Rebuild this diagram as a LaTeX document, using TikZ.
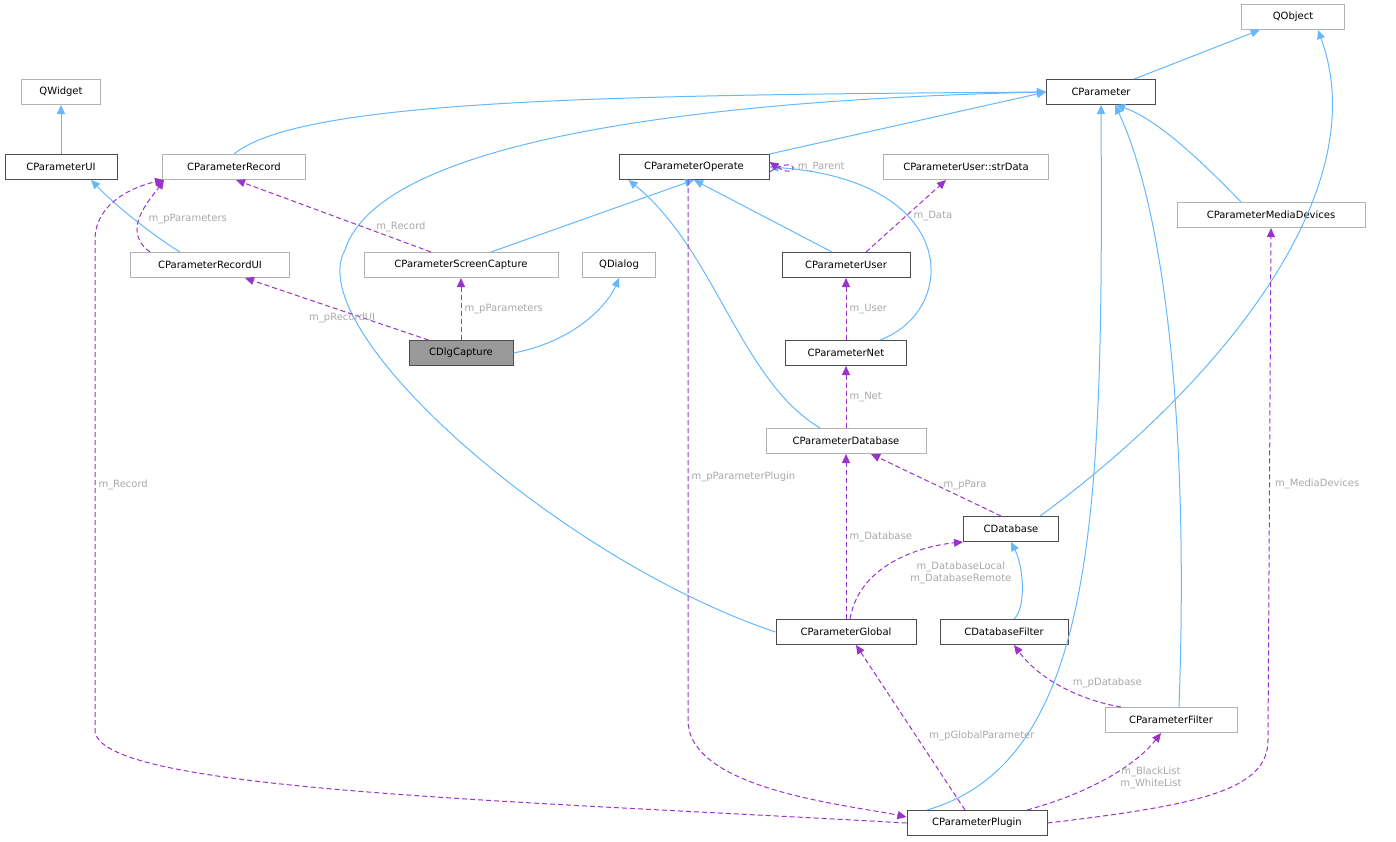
\documentclass[tikz,border=0pt]{standalone}
\usepackage{fontspec}
\setmainfont{DejaVu Sans}
\usetikzlibrary{arrows.meta,positioning}
\definecolor{inhblue}{HTML}{63B8FF}
\definecolor{usepurple}{HTML}{9A32CD}
\definecolor{lblgray}{HTML}{A8A8A8}
\tikzset{
  cls/.style={draw=black!70, line width=1pt, rectangle, minimum height=25pt, inner sep=0pt, font=\fontsize{10}{12}\selectfont},
  ext/.style={cls, draw=black!30},
  inh/.style={draw=inhblue, line width=1pt, {Triangle[length=9pt,width=8pt]}-},
  uses/.style={draw=usepurple, line width=1pt, dash pattern=on 5pt off 3pt, -{Triangle[length=9pt,width=8pt]}},
  lbl/.style={text=lblgray, font=\fontsize{10}{12}\selectfont, align=center, inner sep=1pt}
}
\begin{document}
\begin{tikzpicture}[x=1pt,y=-1pt]
    \useasboundingbox (0,0) rectangle (1396,841);

    % classes
    \node[ext, minimum width=103pt] (qobj) at (1293,17) {QObject};
    \node[cls, minimum width=109pt] (par) at (1101,92) {CParameter};
    \node[ext, minimum width=79pt] (qwid) at (61,92) {QWidget};
    \node[cls, minimum width=112pt] (parui) at (61,167) {CParameterUI};
    \node[ext, minimum width=143pt] (rec) at (234,167) {CParameterRecord};
    \node[cls, minimum width=150pt] (oper) at (694,167) {CParameterOperate};
    \node[ext, minimum width=165pt] (strd) at (966,167) {CParameterUser::strData};
    \node[ext, minimum width=188pt] (media) at (1271,215) {CParameterMediaDevices};
    \node[ext, minimum width=159pt] (recui) at (210,265) {CParameterRecordUI};
    \node[ext, minimum width=194pt] (scap) at (461,265) {CParameterScreenCapture};
    \node[ext, minimum width=73pt] (qdlg) at (619,265) {QDialog};
    \node[cls, minimum width=128pt] (user) at (846,265) {CParameterUser};
    \node[cls, minimum width=104pt, fill=black!40] (dlg) at (461,353) {CDlgCapture};
    \node[cls, minimum width=121pt] (net) at (846,353) {CParameterNet};
    \node[ext, minimum width=160pt] (pdb) at (846,441) {CParameterDatabase};
    \node[cls, minimum width=95pt] (db) at (1011,529) {CDatabase};
    \node[cls, minimum width=140pt] (glob) at (846,632) {CParameterGlobal};
    \node[cls, minimum width=128pt] (dbf) at (1004,632) {CDatabaseFilter};
    \node[ext, minimum width=132pt] (filt) at (1171,720) {CParameterFilter};
    \node[cls, minimum width=140pt] (plug) at (977,823) {CParameterPlugin};

    % inheritance
    \draw[inh] (qobj) -- (par);
    \draw[inh] (qwid) -- (parui);
    \draw[inh] (par.west) .. controls (600,95) and (300,100) .. (rec.north);
    \draw[inh] (par.west) -- (oper.north east);
    \draw[inh] ([xshift=15pt]par.south) .. controls (1160,120) and (1210,170) .. ([xshift=-30pt]media.north);
    \draw[inh] (parui.south) ++(30,0) .. controls (120,210) and (160,240) .. ([xshift=-30pt]recui.north);
    \draw[inh] (oper.south) -- ([xshift=30pt]scap.north);
    \draw[inh] (oper.south) -- ([xshift=-14pt]user.north);
    \draw[inh] (qdlg.south) .. controls (610,300) and (580,340) .. (dlg.east);
    \draw[inh] (oper.east) .. controls (960,180) and (960,310) .. ([xshift=34pt]net.north);
    \draw[inh] ([xshift=10pt]oper.south west) .. controls (715,250) and (740,380) .. ([xshift=-26pt]pdb.north);
    \draw[inh] (par.west) .. controls (700,100) and (380,140) .. (345,250)
        .. controls (300,330) and (560,560) .. (glob.west);
    \draw[inh] ([xshift=25pt]qobj.south) .. controls (1380,200) and (1200,400) .. ([xshift=29pt]db.north);
    \draw[inh] (db.south) .. controls (1025,570) and (1025,610) .. ([xshift=10pt]dbf.north);
    \draw[inh] ([xshift=14pt]par.south) .. controls (1160,200) and (1190,400) .. ([xshift=8pt]filt.north);
    \draw[inh] (par.south) .. controls (1103,500) and (1100,760) .. ([xshift=-50pt]plug.north);

    % usage
    \draw[uses] ([yshift=-5pt]oper.east) .. controls (800,152) and (800,182) .. ([yshift=5pt]oper.east)
        node[lbl, pos=0.5, right=4pt] {m\_Parent};
    \draw[uses] ([xshift=-60pt]recui.north) .. controls (120,230) and (150,200) .. ([xshift=-70pt]rec.south)
        node[lbl, pos=0.45, right=8pt] {m\_pParameters};
    \draw[uses] ([xshift=-30pt]scap.north) -- ([xshift=-70pt]rec.south east)
        node[lbl, pos=0.35, right=12pt] {m\_Record};
    \draw[uses] ([xshift=20pt]user.north) -- ([xshift=-20pt]strd.south)
        node[lbl, midway, right=6pt] {m\_Data};
    \draw[uses] (dlg.north west) ++(20,0) -- ([xshift=35pt]recui.south)
        node[lbl, pos=0.25, above left=0pt and 6pt] {m\_pRecordUI};
    \draw[uses] (dlg) -- (scap) node[lbl, midway, right=2pt] {m\_pParameters};
    \draw[uses] (net) -- (user) node[lbl, midway, right=2pt] {m\_User};
    \draw[uses] (pdb) -- (net) node[lbl, midway, right=2pt] {m\_Net};
    \draw[uses] ([xshift=-10pt]db.north) -- ([xshift=25pt]pdb.south) node[lbl, midway, right=6pt] {m\_pPara};
    \draw[uses] (glob) -- (pdb) node[lbl, midway, right=2pt] {m\_Database};
    \draw[uses] ([xshift=4pt]glob.north) .. controls (860,560) and (930,545) .. (db.south west)
        node[lbl, pos=0.55, below right=4pt and 4pt] {m\_DatabaseLocal\\m\_DatabaseRemote};
    \draw[uses] ([xshift=-50pt]filt.north) .. controls (1080,700) and (1040,680) .. ([xshift=10pt]dbf.south)
        node[lbl, pos=0.45, above right=0pt and 4pt] {m\_pDatabase};
    \draw[uses] ([xshift=-12pt]plug.north) -- ([xshift=10pt]glob.south)
        node[lbl, pos=0.45, right=12pt] {m\_pGlobalParameter};
    \draw[uses] ([xshift=50pt]plug.north) .. controls (1100,790) and (1140,760) .. ([xshift=-10pt]filt.south)
        node[lbl, pos=0.45, right=12pt] {m\_BlackList\\m\_WhiteList};
    \draw[uses] (plug.east) .. controls (1200,805) and (1268,790) .. (1268,740)
        -- (media.south) node[lbl, pos=0.5, right=4pt] {m\_MediaDevices};
    \draw[uses] (plug.west) .. controls (500,800) and (95,790) .. (95,730)
        -- (95,240) node[lbl, pos=0.5, right=2pt] {m\_Record}
        .. controls (95,200) and (140,185) .. ([xshift=-70pt]rec.south);
    \draw[uses] ([xshift=-6pt]oper.south) -- (688,720) node[lbl, pos=0.55, right=2pt] {m\_pParameterPlugin}
        .. controls (688,790) and (850,805) .. ([yshift=6pt]plug.west);
\end{tikzpicture}
\end{document}
